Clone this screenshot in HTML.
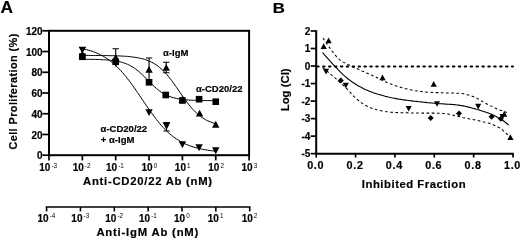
<!DOCTYPE html>
<html><head><meta charset="utf-8"><title>Figure</title>
<style>html,body{margin:0;padding:0;background:#fff;}svg{display:block;}text{font-family:"Liberation Sans",Arial,sans-serif;fill:#000;stroke:#000;stroke-width:0.18px;}</style>
</head><body>
<svg width="520" height="240" viewBox="0 0 520 240">
<rect width="520" height="240" fill="#fff"/>
<text x="0.6" y="13.4" font-size="17.3" font-weight="bold" stroke="#000" stroke-width="0.6">A</text>
<rect x="49.0" y="30.8" width="200.10" height="124.40" fill="none" stroke="#000" stroke-width="2"/>
<line x1="42.4" y1="155.20" x2="49.0" y2="155.20" stroke="#000" stroke-width="1.7"/>
<text x="42.6" y="159.40" font-size="10" font-weight="bold" text-anchor="end">0</text>
<line x1="42.4" y1="134.47" x2="49.0" y2="134.47" stroke="#000" stroke-width="1.7"/>
<text x="42.6" y="138.67" font-size="10" font-weight="bold" text-anchor="end">20</text>
<line x1="42.4" y1="113.73" x2="49.0" y2="113.73" stroke="#000" stroke-width="1.7"/>
<text x="42.6" y="117.93" font-size="10" font-weight="bold" text-anchor="end">40</text>
<line x1="42.4" y1="93.00" x2="49.0" y2="93.00" stroke="#000" stroke-width="1.7"/>
<text x="42.6" y="97.20" font-size="10" font-weight="bold" text-anchor="end">60</text>
<line x1="42.4" y1="72.27" x2="49.0" y2="72.27" stroke="#000" stroke-width="1.7"/>
<text x="42.6" y="76.47" font-size="10" font-weight="bold" text-anchor="end">80</text>
<line x1="42.4" y1="51.53" x2="49.0" y2="51.53" stroke="#000" stroke-width="1.7"/>
<text x="42.6" y="55.73" font-size="10" font-weight="bold" text-anchor="end">100</text>
<line x1="42.4" y1="30.80" x2="49.0" y2="30.80" stroke="#000" stroke-width="1.7"/>
<text x="42.6" y="35.00" font-size="10" font-weight="bold" text-anchor="end">120</text>
<line x1="49.00" y1="155.2" x2="49.00" y2="160.39999999999998" stroke="#000" stroke-width="1.7"/>
<text x="48.20" y="170.8" font-size="10" font-weight="bold" text-anchor="middle">10<tspan dy="-3.3" dx="1.1" font-size="6.3" font-weight="normal" stroke="none">-3</tspan></text>
<line x1="82.35" y1="155.2" x2="82.35" y2="160.39999999999998" stroke="#000" stroke-width="1.7"/>
<text x="81.55" y="170.8" font-size="10" font-weight="bold" text-anchor="middle">10<tspan dy="-3.3" dx="1.1" font-size="6.3" font-weight="normal" stroke="none">-2</tspan></text>
<line x1="115.70" y1="155.2" x2="115.70" y2="160.39999999999998" stroke="#000" stroke-width="1.7"/>
<text x="114.90" y="170.8" font-size="10" font-weight="bold" text-anchor="middle">10<tspan dy="-3.3" dx="1.1" font-size="6.3" font-weight="normal" stroke="none">-1</tspan></text>
<line x1="149.05" y1="155.2" x2="149.05" y2="160.39999999999998" stroke="#000" stroke-width="1.7"/>
<text x="149.35" y="170.8" font-size="10" font-weight="bold" text-anchor="middle">10<tspan dy="-3.3" dx="1.1" font-size="6.3" font-weight="normal" stroke="none">0</tspan></text>
<line x1="182.40" y1="155.2" x2="182.40" y2="160.39999999999998" stroke="#000" stroke-width="1.7"/>
<text x="182.70" y="170.8" font-size="10" font-weight="bold" text-anchor="middle">10<tspan dy="-3.3" dx="1.1" font-size="6.3" font-weight="normal" stroke="none">1</tspan></text>
<line x1="215.75" y1="155.2" x2="215.75" y2="160.39999999999998" stroke="#000" stroke-width="1.7"/>
<text x="216.05" y="170.8" font-size="10" font-weight="bold" text-anchor="middle">10<tspan dy="-3.3" dx="1.1" font-size="6.3" font-weight="normal" stroke="none">2</tspan></text>
<line x1="249.10" y1="155.2" x2="249.10" y2="160.39999999999998" stroke="#000" stroke-width="1.7"/>
<text x="249.40" y="170.8" font-size="10" font-weight="bold" text-anchor="middle">10<tspan dy="-3.3" dx="1.1" font-size="6.3" font-weight="normal" stroke="none">3</tspan></text>
<text x="83" y="185.1" font-size="11.3" font-weight="bold" letter-spacing="0.74">Anti-CD20/22 Ab (nM)</text>
<line x1="45.8" y1="207" x2="250.5" y2="207" stroke="#000" stroke-width="1.7"/>
<line x1="46.60" y1="207" x2="46.60" y2="211.4" stroke="#000" stroke-width="1.6"/>
<text x="46.40" y="221.5" font-size="10" font-weight="bold" text-anchor="middle">10<tspan dy="-3.3" dx="1.1" font-size="6.3" font-weight="normal" stroke="none">-4</tspan></text>
<line x1="80.45" y1="207" x2="80.45" y2="211.4" stroke="#000" stroke-width="1.6"/>
<text x="80.25" y="221.5" font-size="10" font-weight="bold" text-anchor="middle">10<tspan dy="-3.3" dx="1.1" font-size="6.3" font-weight="normal" stroke="none">-3</tspan></text>
<line x1="114.30" y1="207" x2="114.30" y2="211.4" stroke="#000" stroke-width="1.6"/>
<text x="114.10" y="221.5" font-size="10" font-weight="bold" text-anchor="middle">10<tspan dy="-3.3" dx="1.1" font-size="6.3" font-weight="normal" stroke="none">-2</tspan></text>
<line x1="148.15" y1="207" x2="148.15" y2="211.4" stroke="#000" stroke-width="1.6"/>
<text x="147.95" y="221.5" font-size="10" font-weight="bold" text-anchor="middle">10<tspan dy="-3.3" dx="1.1" font-size="6.3" font-weight="normal" stroke="none">-1</tspan></text>
<line x1="182.00" y1="207" x2="182.00" y2="211.4" stroke="#000" stroke-width="1.6"/>
<text x="181.80" y="221.5" font-size="10" font-weight="bold" text-anchor="middle">10<tspan dy="-3.3" dx="1.1" font-size="6.3" font-weight="normal" stroke="none">0</tspan></text>
<line x1="215.85" y1="207" x2="215.85" y2="211.4" stroke="#000" stroke-width="1.6"/>
<text x="215.65" y="221.5" font-size="10" font-weight="bold" text-anchor="middle">10<tspan dy="-3.3" dx="1.1" font-size="6.3" font-weight="normal" stroke="none">1</tspan></text>
<line x1="249.70" y1="207" x2="249.70" y2="211.4" stroke="#000" stroke-width="1.6"/>
<text x="249.50" y="221.5" font-size="10" font-weight="bold" text-anchor="middle">10<tspan dy="-3.3" dx="1.1" font-size="6.3" font-weight="normal" stroke="none">2</tspan></text>
<text x="96.4" y="236.3" font-size="11.3" font-weight="bold" letter-spacing="0.8">Anti-IgM Ab (nM)</text>
<text transform="translate(17.3,149.6) rotate(-90)" font-size="10.9" font-weight="bold" letter-spacing="0.42">Cell Proliferation (%)</text>
<polyline points="81.7,59.3 83.4,59.3 85.1,59.3 86.8,59.3 88.5,59.3 90.2,59.3 91.9,59.4 93.6,59.4 95.3,59.4 97.0,59.5 98.7,59.5 100.4,59.6 102.0,59.7 103.7,59.8 105.4,59.8 107.1,60.0 108.8,60.1 110.5,60.3 112.2,60.4 113.9,60.7 115.6,60.9 117.3,61.2 119.0,61.6 120.7,62.0 122.4,62.4 124.1,63.0 125.8,63.6 127.5,64.3 129.2,65.1 130.9,66.0 132.6,67.0 134.3,68.1 136.0,69.3 137.7,70.6 139.4,72.0 141.1,73.6 142.8,75.2 144.5,76.8 146.2,78.5 147.9,80.3 149.6,82.0 151.3,83.7 153.0,85.3 154.7,86.9 156.4,88.4 158.1,89.8 159.7,91.1 161.4,92.3 163.1,93.3 164.8,94.3 166.5,95.1 168.2,95.9 169.9,96.6 171.6,97.1 173.3,97.7 175.0,98.1 176.7,98.5 178.4,98.8 180.1,99.1 181.8,99.3 183.5,99.5 185.2,99.7 186.9,99.9 188.6,100.0 190.3,100.1 192.0,100.2 193.7,100.3 195.4,100.3 197.1,100.4 198.8,100.4 200.5,100.5 202.2,100.5 203.9,100.5 205.6,100.6 207.3,100.6 209.0,100.6 210.7,100.6 212.4,100.6 214.1,100.6 215.8,100.6" fill="none" stroke="#000" stroke-width="1.0" />
<polyline points="81.7,55.4 83.4,55.4 85.1,55.4 86.8,55.4 88.5,55.4 90.2,55.5 91.9,55.5 93.6,55.5 95.3,55.5 97.0,55.5 98.7,55.5 100.4,55.5 102.0,55.5 103.7,55.6 105.4,55.6 107.1,55.6 108.8,55.6 110.5,55.7 112.2,55.7 113.9,55.7 115.6,55.8 117.3,55.9 119.0,55.9 120.7,56.0 122.4,56.1 124.1,56.2 125.8,56.3 127.5,56.4 129.2,56.6 130.9,56.8 132.6,57.0 134.3,57.2 136.0,57.5 137.7,57.8 139.4,58.1 141.1,58.5 142.8,58.9 144.5,59.4 146.2,59.9 147.9,60.6 149.6,61.3 151.3,62.1 153.0,62.9 154.7,63.9 156.4,65.0 158.1,66.2 159.7,67.6 161.4,69.0 163.1,70.6 164.8,72.4 166.5,74.2 168.2,76.2 169.9,78.3 171.6,80.5 173.3,82.8 175.0,85.2 176.7,87.6 178.4,90.1 180.1,92.6 181.8,95.0 183.5,97.5 185.2,99.8 186.9,102.1 188.6,104.3 190.3,106.4 192.0,108.4 193.7,110.3 195.4,112.0 197.1,113.6 198.8,115.1 200.5,116.4 202.2,117.6 203.9,118.7 205.6,119.7 207.3,120.6 209.0,121.3 210.7,122.0 212.4,122.7 214.1,123.2 215.8,123.7" fill="none" stroke="#000" stroke-width="1.0" />
<polyline points="81.7,48.5 83.4,48.9 85.1,49.3 86.8,49.7 88.5,50.2 90.2,50.7 91.9,51.2 93.6,51.8 95.3,52.5 97.0,53.2 98.7,53.9 100.4,54.8 102.0,55.6 103.7,56.6 105.4,57.6 107.1,58.7 108.8,59.9 110.5,61.2 112.2,62.5 113.9,63.9 115.6,65.5 117.3,67.1 119.0,68.8 120.7,70.6 122.4,72.4 124.1,74.4 125.8,76.5 127.5,78.6 129.2,80.8 130.9,83.1 132.6,85.4 134.3,87.8 136.0,90.3 137.7,92.7 139.4,95.2 141.1,97.8 142.8,100.3 144.5,102.8 146.2,105.3 147.9,107.8 149.6,110.2 151.3,112.6 153.0,114.9 154.7,117.2 156.4,119.4 158.1,121.5 159.7,123.6 161.4,125.5 163.1,127.4 164.8,129.2 166.5,130.9 168.2,132.5 169.9,134.0 171.6,135.4 173.3,136.7 175.0,138.0 176.7,139.1 178.4,140.2 180.1,141.2 181.8,142.2 183.5,143.1 185.2,143.9 186.9,144.6 188.6,145.3 190.3,146.0 192.0,146.5 193.7,147.1 195.4,147.6 197.1,148.0 198.8,148.5 200.5,148.9 202.2,149.2 203.9,149.5 205.6,149.8 207.3,150.1 209.0,150.4 210.7,150.6 212.4,150.8 214.1,151.0 215.8,151.2" fill="none" stroke="#000" stroke-width="1.0" />
<path d="M115.70 48.8V62M112.50 48.8H118.90M112.50 62H118.90" stroke="#000" stroke-width="1.1" fill="none"/>
<path d="M149.05 58V80M145.85 58H152.25M145.85 80H152.25" stroke="#000" stroke-width="1.1" fill="none"/>
<path d="M166.23 62.3V72.8M163.03 62.3H169.43M163.03 72.8H169.43" stroke="#000" stroke-width="1.1" fill="none"/>
<path d="M82.35 47.5V54M79.15 47.5H85.55M79.15 54H85.55" stroke="#000" stroke-width="1.1" fill="none"/>
<path d="M166.53 122.5V131M163.33 122.5H169.73M163.33 131H169.73" stroke="#000" stroke-width="1.1" fill="none"/>
<path d="M82.35 50.80L86.05 57.65H78.65Z" fill="#000"/>
<path d="M115.70 53.80L119.40 60.65H112.00Z" fill="#000"/>
<path d="M149.05 65.90L152.75 72.74H145.35Z" fill="#000"/>
<path d="M166.23 63.90L169.93 70.74H162.53Z" fill="#000"/>
<path d="M182.40 95.80L186.10 102.64H178.70Z" fill="#000"/>
<path d="M199.58 109.70L203.28 116.55H195.88Z" fill="#000"/>
<path d="M215.75 120.80L219.45 127.64H212.05Z" fill="#000"/>
<path d="M82.35 53.70L86.05 46.85H78.65Z" fill="#000"/>
<path d="M115.70 66.90L119.40 60.05H112.00Z" fill="#000"/>
<path d="M149.05 116.00L152.75 109.16H145.35Z" fill="#000"/>
<path d="M166.53 129.70L170.23 122.86H162.83Z" fill="#000"/>
<path d="M182.40 148.20L186.10 141.35H178.70Z" fill="#000"/>
<path d="M199.08 151.20L202.78 144.35H195.38Z" fill="#000"/>
<path d="M215.75 154.20L219.45 147.35H212.05Z" fill="#000"/>
<rect x="79.05" y="53.50" width="6.6" height="6.6" fill="#000"/>
<rect x="112.40" y="58.50" width="6.6" height="6.6" fill="#000"/>
<rect x="145.75" y="79.00" width="6.6" height="6.6" fill="#000"/>
<rect x="162.43" y="91.70" width="6.6" height="6.6" fill="#000"/>
<rect x="179.10" y="97.20" width="6.6" height="6.6" fill="#000"/>
<rect x="195.78" y="95.90" width="6.6" height="6.6" fill="#000"/>
<rect x="212.45" y="98.40" width="6.6" height="6.6" fill="#000"/>
<text x="163" y="56.2" font-size="9.5" font-weight="bold" stroke="none">α-IgM</text>
<text x="196" y="91.6" font-size="9.5" font-weight="bold" stroke="none" letter-spacing="0">α-CD20/22</text>
<text x="100.6" y="131.5" font-size="9.5" font-weight="bold" stroke="none" letter-spacing="0">α-CD20/22</text>
<text x="100.8" y="143.2" font-size="9.5" font-weight="bold" stroke="none">+ α-IgM</text>
<text x="272.8" y="12.5" font-size="14.6" font-weight="bold" transform="translate(272.8,0) scale(1.15,1) translate(-272.8,0)">B</text>
<path d="M316.2 30.20V153.65H513.80" fill="none" stroke="#000" stroke-width="2"/>
<line x1="310.7" y1="31.00" x2="316.2" y2="31.00" stroke="#000" stroke-width="1.7"/>
<text x="310.4" y="34.50" font-size="10" font-weight="bold" text-anchor="end">2</text>
<line x1="310.7" y1="48.52" x2="316.2" y2="48.52" stroke="#000" stroke-width="1.7"/>
<text x="310.4" y="52.02" font-size="10" font-weight="bold" text-anchor="end">1</text>
<line x1="310.7" y1="66.04" x2="316.2" y2="66.04" stroke="#000" stroke-width="1.7"/>
<text x="310.4" y="69.54" font-size="10" font-weight="bold" text-anchor="end">0</text>
<line x1="310.7" y1="83.56" x2="316.2" y2="83.56" stroke="#000" stroke-width="1.7"/>
<text x="310.4" y="87.06" font-size="10" font-weight="bold" text-anchor="end">-1</text>
<line x1="310.7" y1="101.09" x2="316.2" y2="101.09" stroke="#000" stroke-width="1.7"/>
<text x="310.4" y="104.59" font-size="10" font-weight="bold" text-anchor="end">-2</text>
<line x1="310.7" y1="118.61" x2="316.2" y2="118.61" stroke="#000" stroke-width="1.7"/>
<text x="310.4" y="122.11" font-size="10" font-weight="bold" text-anchor="end">-3</text>
<line x1="310.7" y1="136.13" x2="316.2" y2="136.13" stroke="#000" stroke-width="1.7"/>
<text x="310.4" y="139.63" font-size="10" font-weight="bold" text-anchor="end">-4</text>
<line x1="310.7" y1="153.65" x2="316.2" y2="153.65" stroke="#000" stroke-width="1.7"/>
<text x="310.4" y="157.15" font-size="10" font-weight="bold" text-anchor="end">-5</text>
<line x1="316.20" y1="153.65" x2="316.20" y2="157.55" stroke="#000" stroke-width="1.7"/>
<text x="315.70" y="168.7" font-size="10.8" font-weight="bold" text-anchor="middle" letter-spacing="0.7">0.0</text>
<line x1="355.56" y1="153.65" x2="355.56" y2="157.55" stroke="#000" stroke-width="1.7"/>
<text x="355.06" y="168.7" font-size="10.8" font-weight="bold" text-anchor="middle" letter-spacing="0.7">0.2</text>
<line x1="394.92" y1="153.65" x2="394.92" y2="157.55" stroke="#000" stroke-width="1.7"/>
<text x="394.42" y="168.7" font-size="10.8" font-weight="bold" text-anchor="middle" letter-spacing="0.7">0.4</text>
<line x1="434.28" y1="153.65" x2="434.28" y2="157.55" stroke="#000" stroke-width="1.7"/>
<text x="433.78" y="168.7" font-size="10.8" font-weight="bold" text-anchor="middle" letter-spacing="0.7">0.6</text>
<line x1="473.64" y1="153.65" x2="473.64" y2="157.55" stroke="#000" stroke-width="1.7"/>
<text x="473.14" y="168.7" font-size="10.8" font-weight="bold" text-anchor="middle" letter-spacing="0.7">0.8</text>
<line x1="513.00" y1="153.65" x2="513.00" y2="157.55" stroke="#000" stroke-width="1.7"/>
<text x="512.50" y="168.7" font-size="10.8" font-weight="bold" text-anchor="middle" letter-spacing="0.7">1.0</text>
<text x="414" y="187.9" font-size="11.3" font-weight="bold" text-anchor="middle" letter-spacing="0.53">Inhibited Fraction</text>
<text transform="translate(289.4,111.3) rotate(-90)" font-size="11.3" font-weight="bold" letter-spacing="0.03">Log (CI)</text>
<line x1="317.2" y1="66.4" x2="513.0" y2="66.4" stroke="#000" stroke-width="2.0" stroke-dasharray="1.5 4.4" stroke-linecap="round"/>
<polyline points="322.5,52.5 324.1,54.3 325.6,56.2 327.2,57.9 328.8,59.7 330.3,61.4 331.9,63.1 333.5,64.8 335.0,66.4 336.6,68.0 338.1,69.7 339.7,71.3 341.3,72.9 342.8,74.4 344.4,75.8 346.0,77.2 347.5,78.5 349.1,79.7 350.7,80.9 352.2,82.0 353.8,83.0 355.4,84.0 356.9,85.0 358.5,85.9 360.1,86.8 361.6,87.6 363.2,88.4 364.7,89.2 366.3,89.9 367.9,90.5 369.4,91.2 371.0,91.8 372.6,92.4 374.1,92.9 375.7,93.4 377.3,93.9 378.8,94.4 380.4,94.9 382.0,95.3 383.5,95.7 385.1,96.2 386.7,96.6 388.2,97.0 389.8,97.3 391.3,97.7 392.9,98.0 394.5,98.3 396.0,98.6 397.6,98.9 399.2,99.2 400.7,99.4 402.3,99.7 403.9,99.9 405.4,100.1 407.0,100.3 408.6,100.5 410.1,100.7 411.7,100.9 413.3,101.1 414.8,101.2 416.4,101.4 417.9,101.6 419.5,101.7 421.1,101.9 422.6,102.1 424.2,102.2 425.8,102.4 427.3,102.6 428.9,102.7 430.5,102.9 432.0,103.0 433.6,103.2 435.2,103.3 436.7,103.4 438.3,103.6 439.9,103.7 441.4,103.8 443.0,103.9 444.5,104.0 446.1,104.1 447.7,104.2 449.2,104.3 450.8,104.4 452.4,104.5 453.9,104.6 455.5,104.8 457.1,105.0 458.6,105.1 460.2,105.4 461.8,105.6 463.3,105.9 464.9,106.2 466.5,106.6 468.0,107.0 469.6,107.4 471.1,107.8 472.7,108.2 474.3,108.6 475.8,109.0 477.4,109.5 479.0,109.9 480.5,110.4 482.1,110.9 483.7,111.4 485.2,111.9 486.8,112.5 488.4,113.1 489.9,113.7 491.5,114.3 493.1,115.0 494.6,115.8 496.2,116.6 497.7,117.4 499.3,118.3 500.9,119.2 502.4,120.3 504.0,121.3 505.6,122.5 507.1,123.7 508.7,125.0" fill="none" stroke="#000" stroke-width="1.1" />
<polyline points="323.0,38.0 324.6,40.4 326.1,42.7 327.7,44.9 329.2,47.1 330.8,49.3 332.4,51.5 333.9,53.5 335.5,55.4 337.0,57.2 338.6,58.8 340.2,60.1 341.7,61.2 343.3,62.1 344.8,62.9 346.4,63.8 348.0,64.6 349.5,65.3 351.1,66.1 352.6,66.8 354.2,67.5 355.8,68.2 357.3,68.8 358.9,69.5 360.5,70.2 362.0,70.9 363.6,71.6 365.1,72.3 366.7,73.0 368.3,73.7 369.8,74.4 371.4,75.1 372.9,75.8 374.5,76.5 376.1,77.2 377.6,77.9 379.2,78.7 380.7,79.4 382.3,80.2 383.9,80.9 385.4,81.6 387.0,82.4 388.5,83.0 390.1,83.7 391.7,84.3 393.2,84.9 394.8,85.4 396.3,85.9 397.9,86.4 399.5,86.9 401.0,87.4 402.6,87.9 404.1,88.3 405.7,88.7 407.3,89.1 408.8,89.5 410.4,89.8 411.9,90.1 413.5,90.4 415.1,90.7 416.6,90.9 418.2,91.2 419.8,91.4 421.3,91.6 422.9,91.8 424.4,92.0 426.0,92.1 427.6,92.2 429.1,92.3 430.7,92.3 432.2,92.4 433.8,92.5 435.4,92.5 436.9,92.6 438.5,92.6 440.0,92.7 441.6,92.8 443.2,92.8 444.7,92.8 446.3,92.9 447.8,92.9 449.4,92.9 451.0,93.0 452.5,93.0 454.1,93.1 455.6,93.1 457.2,93.2 458.8,93.2 460.3,93.3 461.9,93.5 463.4,93.7 465.0,94.1 466.6,94.5 468.1,94.9 469.7,95.4 471.2,95.9 472.8,96.4 474.4,97.0 475.9,97.8 477.5,98.6 479.1,99.5 480.6,100.5 482.2,101.4 483.7,102.3 485.3,103.2 486.9,104.0 488.4,104.8 490.0,105.6 491.5,106.4 493.1,107.1 494.7,107.9 496.2,108.5 497.8,109.2 499.3,109.8 500.9,110.4 502.5,111.0 504.0,111.5 505.6,112.0 507.1,112.5 508.7,113.0" fill="none" stroke="#000" stroke-width="1.05" stroke-dasharray="2.7 2.5"/>
<polyline points="322.5,67.5 324.1,68.8 325.6,70.1 327.2,71.4 328.8,72.7 330.3,74.0 331.9,75.3 333.5,76.6 335.0,77.9 336.6,79.2 338.1,80.6 339.7,82.0 341.3,83.4 342.8,84.8 344.4,86.3 346.0,87.8 347.5,89.3 349.1,91.0 350.7,92.8 352.2,94.6 353.8,96.3 355.4,97.8 356.9,99.2 358.5,100.5 360.1,101.8 361.6,102.9 363.2,103.9 364.7,104.9 366.3,105.7 367.9,106.5 369.4,107.2 371.0,107.9 372.6,108.5 374.1,109.1 375.7,109.6 377.3,109.9 378.8,110.3 380.4,110.6 382.0,110.9 383.5,111.2 385.1,111.5 386.7,111.7 388.2,111.9 389.8,112.1 391.3,112.3 392.9,112.4 394.5,112.5 396.0,112.5 397.6,112.6 399.2,112.6 400.7,112.7 402.3,112.7 403.9,112.8 405.4,112.8 407.0,112.8 408.6,112.9 410.1,112.9 411.7,112.9 413.3,112.9 414.8,113.0 416.4,113.0 417.9,113.0 419.5,113.0 421.1,113.0 422.6,113.1 424.2,113.1 425.8,113.1 427.3,113.1 428.9,113.1 430.5,113.1 432.0,113.1 433.6,113.1 435.2,113.1 436.7,113.2 438.3,113.2 439.9,113.2 441.4,113.3 443.0,113.4 444.5,113.5 446.1,113.8 447.7,114.0 449.2,114.3 450.8,114.7 452.4,115.0 453.9,115.4 455.5,115.8 457.1,116.2 458.6,116.5 460.2,116.9 461.8,117.3 463.3,117.7 464.9,118.0 466.5,118.3 468.0,118.6 469.6,118.9 471.1,119.2 472.7,119.5 474.3,119.8 475.8,120.1 477.4,120.5 479.0,120.8 480.5,121.2 482.1,121.5 483.7,121.9 485.2,122.2 486.8,122.7 488.4,123.1 489.9,123.6 491.5,124.1 493.1,124.7 494.6,125.4 496.2,126.1 497.7,126.9 499.3,127.8 500.9,128.8 502.4,129.9 504.0,131.3 505.6,132.7 507.1,134.3 508.7,136.0" fill="none" stroke="#000" stroke-width="1.05" stroke-dasharray="2.7 2.5"/>
<path d="M328.60 37.60L331.70 43.34H325.50Z" fill="#000"/>
<path d="M323.70 43.20L326.80 48.93H320.60Z" fill="#000"/>
<path d="M382.50 74.40L385.60 80.14H379.40Z" fill="#000"/>
<path d="M433.70 81.10L436.80 86.84H430.60Z" fill="#000"/>
<path d="M510.40 134.20L513.50 139.94H507.30Z" fill="#000"/>
<path d="M504.20 111.10L507.30 116.84H501.10Z" fill="#000"/>
<path d="M326.00 74.40L329.00 68.85H323.00Z" fill="#000"/>
<path d="M345.80 88.40L348.80 82.85H342.80Z" fill="#000"/>
<path d="M408.70 111.50L411.70 105.95H405.70Z" fill="#000"/>
<path d="M437.00 106.70L440.00 101.15H434.00Z" fill="#000"/>
<path d="M478.20 109.40L481.20 103.85H475.20Z" fill="#000"/>
<path d="M502.50 119.50L505.50 113.95H499.50Z" fill="#000"/>
<path d="M340.80 77.50L343.80 80.50L340.80 83.50L337.80 80.50Z" fill="#000"/>
<path d="M430.70 115.00L433.70 118.00L430.70 121.00L427.70 118.00Z" fill="#000"/>
<path d="M459.00 110.50L462.00 113.50L459.00 116.50L456.00 113.50Z" fill="#000"/>
<path d="M491.60 113.80L494.60 116.80L491.60 119.80L488.60 116.80Z" fill="#000"/>
<path d="M500.80 115.80L503.80 118.80L500.80 121.80L497.80 118.80Z" fill="#000"/>
</svg>
</body></html>
